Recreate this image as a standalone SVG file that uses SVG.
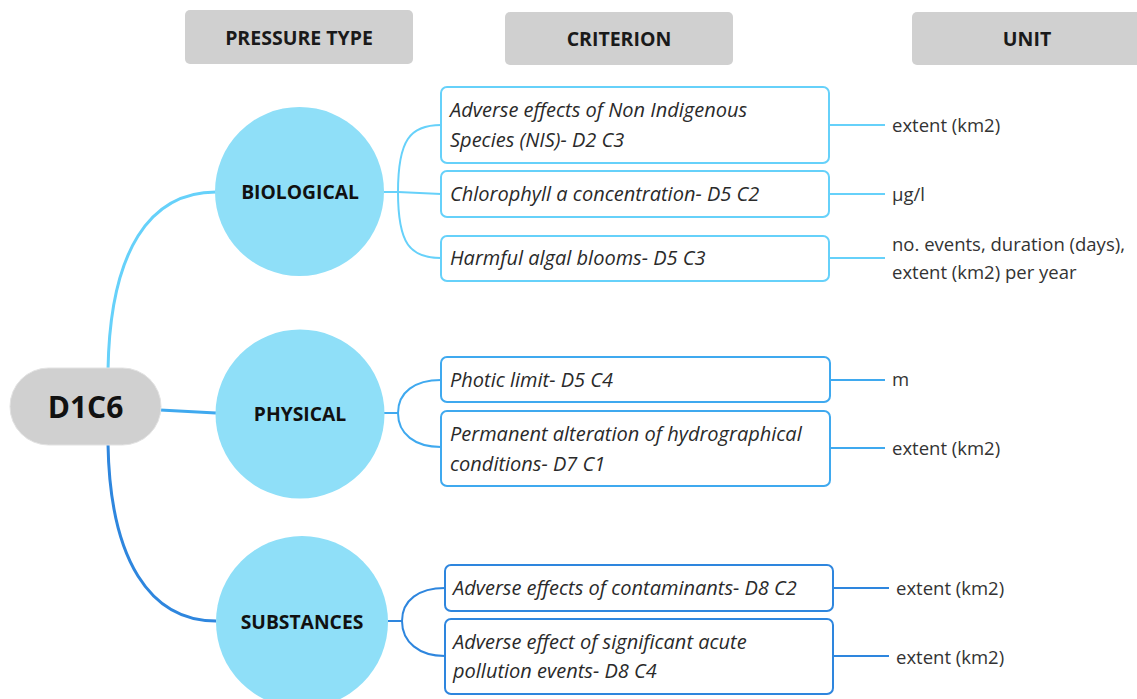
<svg xmlns="http://www.w3.org/2000/svg" width="1137" height="699" viewBox="0 0 1137 699">
<style>
.hdr{fill:#d0d0d0}
.hdrt{font-family:"Open Sans","Liberation Sans",sans-serif;font-weight:700;font-size:19.5px;fill:#1a1a1a;text-anchor:middle}
.circ{fill:#8fdff8}
.ct{font-family:"Open Sans","Liberation Sans",sans-serif;font-weight:700;font-size:19.3px;fill:#111;text-anchor:middle}
.box{fill:#fff;stroke-width:2}
.bt{font-family:"Open Sans","Liberation Sans",sans-serif;font-style:italic;font-size:20px;fill:#2a2a2a}
.ut{font-family:"Open Sans","Liberation Sans",sans-serif;font-size:18.5px;fill:#333}
.c1{stroke:#66d1fa}
.c2{stroke:#3fa9ef}
.c3{stroke:#2e86de}
.ln{fill:none;stroke-width:2}
.lnm{fill:none;stroke-width:3}
</style>
<g id="headers">
<rect class="hdr" x="185" y="10" width="228" height="54" rx="5"/>
<text class="hdrt" x="299" y="45">PRESSURE TYPE</text>
<rect class="hdr" x="505" y="12" width="228" height="53" rx="5"/>
<text class="hdrt" x="619" y="46">CRITERION</text>
<rect class="hdr" x="912" y="12" width="230" height="53" rx="5"/>
<text class="hdrt" x="1027" y="46">UNIT</text>
</g>
<g id="connectors">
<path class="lnm c1" d="M108,370 C110,250 150,192 216,192"/>
<path class="lnm c2" d="M160,410 L216,413"/>
<path class="lnm c3" d="M108,444 C110,560 150,621 216,621"/>
<path class="ln c1" d="M384,192 L398,192 L441,194"/>
<path class="ln c1" d="M398,192 C398,140 410,125 441,125"/>
<path class="ln c1" d="M398,192 C398,244 410,258 441,258"/>
<path class="ln c2" d="M384,413 L398,413"/>
<path class="ln c2" d="M398,413 C398,392 415,380 441,380"/>
<path class="ln c2" d="M398,413 C398,434 415,447 441,447"/>
<path class="ln c3" d="M388,621 L402,621"/>
<path class="ln c3" d="M402,621 C402,600 419,588 445,588"/>
<path class="ln c3" d="M402,621 C402,642 419,656 445,656"/>
<path class="ln c1" d="M829,125 L885,125"/>
<path class="ln c1" d="M829,194 L885,194"/>
<path class="ln c1" d="M829,258 L885,258"/>
<path class="ln c2" d="M830,380 L885,380"/>
<path class="ln c2" d="M830,448 L885,448"/>
<path class="ln c3" d="M833,588 L889,588"/>
<path class="ln c3" d="M833,656 L889,656"/>
</g>
<g id="D1C6">
<rect x="10" y="368" width="151" height="77" rx="38.5" fill="#d0d0d0" stroke="#e2e2e2" stroke-width="1"/>
<text x="85.5" y="418" font-family="'Open Sans','Liberation Sans',sans-serif" font-weight="700" font-size="30px" fill="#111" text-anchor="middle">D1C6</text>
</g>
<g id="biological">
<circle class="circ" cx="299.5" cy="191.5" r="84.5"/>
<text class="ct" x="300" y="199">BIOLOGICAL</text>
</g>
<g id="physical">
<circle class="circ" cx="300" cy="414" r="84.5"/>
<text class="ct" x="300" y="421">PHYSICAL</text>
</g>
<g id="substances">
<circle class="circ" cx="302" cy="622" r="86"/>
<text class="ct" x="302" y="629">SUBSTANCES</text>
</g>
<g id="crit-nis">
<rect class="box c1" x="441" y="87" width="388" height="76" rx="6"/>
<text class="bt" x="450" y="117">Adverse effects of Non Indigenous</text>
<text class="bt" x="450" y="147">Species (NIS)- D2 C3</text>
</g>
<g id="crit-chl">
<rect class="box c1" x="441" y="171" width="388" height="46" rx="6"/>
<text class="bt" x="450" y="201">Chlorophyll a concentration- D5 C2</text>
</g>
<g id="crit-hab">
<rect class="box c1" x="441" y="236" width="388" height="45" rx="6"/>
<text class="bt" x="450" y="265">Harmful algal blooms- D5 C3</text>
</g>
<g id="crit-photic">
<rect class="box c2" x="441" y="357" width="389" height="45" rx="6"/>
<text class="bt" x="450" y="387">Photic limit- D5 C4</text>
</g>
<g id="crit-hydro">
<rect class="box c2" x="441" y="411" width="389" height="75" rx="6"/>
<text class="bt" x="450" y="441">Permanent alteration of hydrographical</text>
<text class="bt" x="450" y="471">conditions- D7 C1</text>
</g>
<g id="crit-contam">
<rect class="box c3" x="445" y="565" width="388" height="46" rx="6"/>
<text class="bt" x="453" y="595">Adverse effects of contaminants- D8 C2</text>
</g>
<g id="crit-acute">
<rect class="box c3" x="445" y="619" width="388" height="75" rx="6"/>
<text class="bt" x="453" y="649">Adverse effect of significant acute</text>
<text class="bt" x="453" y="678">pollution events- D8 C4</text>
</g>
<g id="units">
<text class="ut" x="892" y="132">extent (km2)</text>
<text class="ut" x="892" y="201">µg/l</text>
<text class="ut" x="892" y="251">no. events, duration (days),</text>
<text class="ut" x="892" y="279">extent (km2) per year</text>
<text class="ut" x="892" y="386">m</text>
<text class="ut" x="892" y="455">extent (km2)</text>
<text class="ut" x="896" y="595">extent (km2)</text>
<text class="ut" x="896" y="664">extent (km2)</text>
</g>
</svg>
